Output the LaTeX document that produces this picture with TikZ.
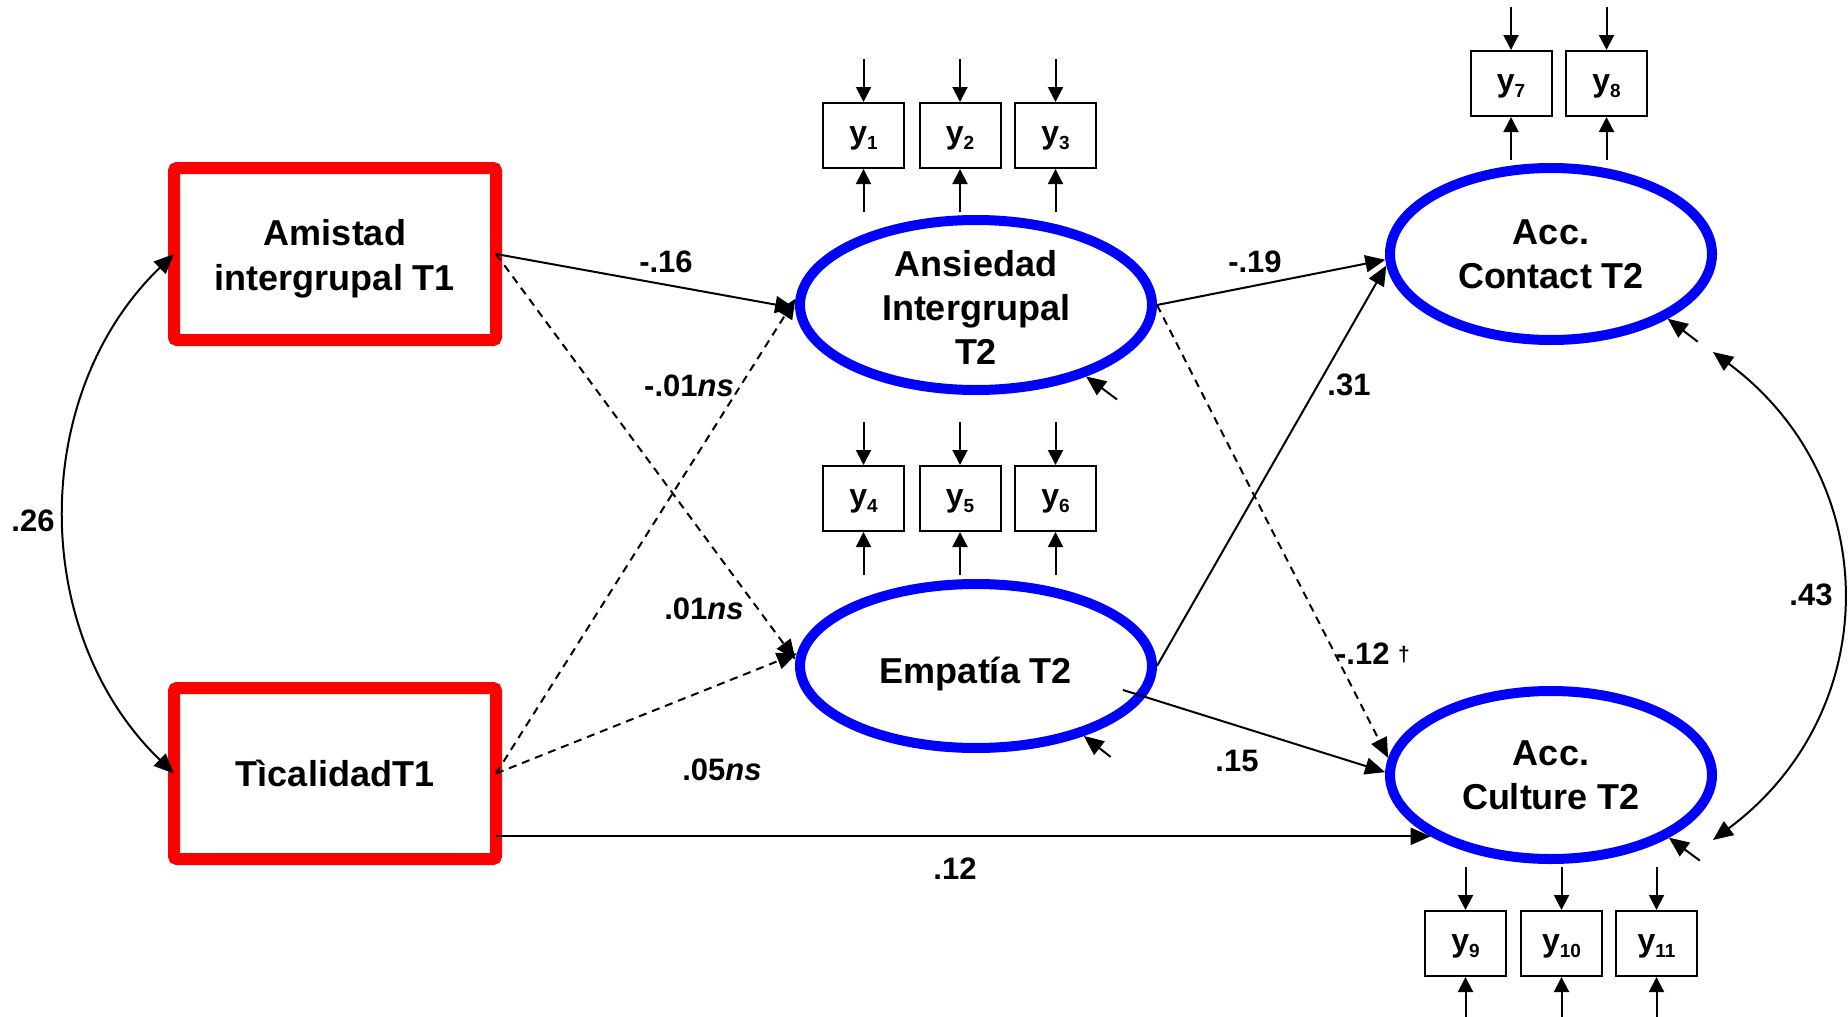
\documentclass[tikz,border=0pt]{standalone}
\usepackage{fontspec}
\setmainfont{Liberation Sans}
\usetikzlibrary{arrows.meta,shapes.geometric}
\newcommand{\ysb}[1]{\raisebox{-6pt}{\fontsize{19}{19}\selectfont #1}}
\begin{document}
\begin{tikzpicture}[x=1pt,y=-1pt,
  redbox/.style={draw=red, line width=12pt, rounded corners=3pt, minimum width=322pt, minimum height=172pt, inner sep=0pt, outer sep=0pt, align=center, font=\fontsize{36}{45}\selectfont\bfseries},
  latent/.style={draw=blue, ellipse, line width=10pt, inner sep=0pt, align=center, font=\fontsize{36}{44}\selectfont\bfseries},
  ind/.style={draw, line width=2pt, minimum width=81pt, minimum height=65pt, inner sep=0pt, text height=20pt, text depth=4pt, font=\fontsize{32}{32}\selectfont\bfseries},
  arr/.style={line width=2pt, -{Triangle[length=20pt,width=17pt]}},
  darr/.style={arr, dash pattern=on 8pt off 6pt},
  sarr/.style={line width=2pt, -{Triangle[length=15pt,width=15pt]}},
  dbl/.style={line width=2pt, {Triangle[length=20pt,width=17pt]}-{Triangle[length=20pt,width=17pt]}},
  lab/.style={font=\fontsize{31}{31}\selectfont\bfseries, inner sep=0pt},
]
\fill[white] (0,0) rectangle (1848,1017);
\useasboundingbox (0,0) rectangle (1848,1017);

% exogenous observed variables
\node[redbox] (ami) at (335,254) {\rule{0pt}{36pt}Amistad\\intergrupal T1};
\node[redbox, minimum height=171pt] (tica) at (335,773.5) {TìcalidadT1};

% latent variables
\node[latent, minimum width=352pt, minimum height=170pt] (ans) at (976,305) {\rule{0pt}{30pt}Ansiedad\\Intergrupal\\T2};
\node[latent, minimum width=352pt, minimum height=164pt, text height=40pt, text depth=5pt] (emp) at (976,666) {Empatía T2};
\node[latent, minimum width=322pt, minimum height=172pt] (con) at (1551,254) {Acc.\\Contact T2};
\node[latent, minimum width=322pt, minimum height=168pt] (cul) at (1551,775) {Acc.\\Culture T2};

% indicators
\node[ind] (y1) at (863.5,135.5) {y\ysb{1}};
\node[ind] (y2) at (960,135.5) {y\ysb{2}};
\node[ind] (y3) at (1055.5,135.5) {y\ysb{3}};
\node[ind] (y4) at (863.5,498.5) {y\ysb{4}};
\node[ind] (y5) at (960,498.5) {y\ysb{5}};
\node[ind] (y6) at (1055.5,498.5) {y\ysb{6}};
\node[ind] (y7) at (1511,83.5) {y\ysb{7}};
\node[ind] (y8) at (1606.5,83.5) {y\ysb{8}};
\node[ind] (y9) at (1465.5,943.5) {y\ysb{9}};
\node[ind] (y10) at (1561.5,943.5) {y\ysb{10}};
\node[ind] (y11) at (1656.5,943.5) {y\ysb{11}};
\foreach \n in {1,...,11}{
  \coordinate (top\n) at ([yshift=43pt]y\n.north);
  \coordinate (bot\n) at ([yshift=-43pt]y\n.south);
  \draw[sarr] (top\n) -- (y\n.north);
  \draw[sarr] (bot\n) -- (y\n.south);
}

% structural paths
\draw[arr] (ami.east) -- (ans.181);
\draw[darr] (ami.east) -- (emp.178);
\draw[darr] (tica.east) -- (ans.178);
\draw[darr] (tica.east) -- (emp.176);
\draw[arr] (tica.east |- cul.207) -- (cul.207);
\draw[arr] (ans.east) -- (con.182);
\draw[darr] (ans.east) -- (cul.174);
\draw[arr] (emp.east) -- (con.184);
\coordinate (e15) at ([shift={(147pt,-24pt)}]emp.center);
\draw[arr] (e15) -- (cul.179);

% disturbances
\coordinate (dans) at ([shift={(31pt,-23pt)}]ans.-33);
\coordinate (demp) at ([shift={(27pt,-21pt)}]emp.-33);
\coordinate (dcon) at ([shift={(30pt,-23pt)}]con.-29);
\coordinate (dcul) at ([shift={(31pt,-23pt)}]cul.-28);
\draw[arr] (dans) -- (ans.-33);
\draw[arr] (demp) -- (emp.-33);
\draw[arr] (dcon) -- (con.-29);
\draw[arr] (dcul) -- (cul.-28);

% covariances
\draw[dbl] (ami.west) .. controls +(-145,140) and +(-145,-140) .. (tica.west);
\coordinate (c43a) at ([shift={(162pt,-98pt)}]con.center);
\coordinate (c43b) at ([shift={(162pt,-65pt)}]cul.center);
\draw[dbl] (c43a) .. controls +(172,128) and +(172,-128) .. (c43b);

% coefficients
\node[lab] (l1) at (666,262) {-.16};
\node[lab] (l2) at (689,386) {-.01\textit{ns}};
\node[lab] (l3) at (704,609) {.01\textit{ns}};
\node[lab] (l4) at (722,770) {.05\textit{ns}};
\node[lab] (l5) at (955,869) {.12};
\node[lab] (l6) at (1255,262) {-.19};
\node[lab] (l7) at (1349,385) {.31};
\node[lab] (l8) at (1373,654) {-.12 \raisebox{3pt}{\fontsize{21}{21}\selectfont †}};
\node[lab] (l9) at (1237,761) {.15};
\node[lab] (l10) at (1811,595) {.43};
\node[lab] (l11) at (33,521) {.26};
\end{tikzpicture}
\end{document}
